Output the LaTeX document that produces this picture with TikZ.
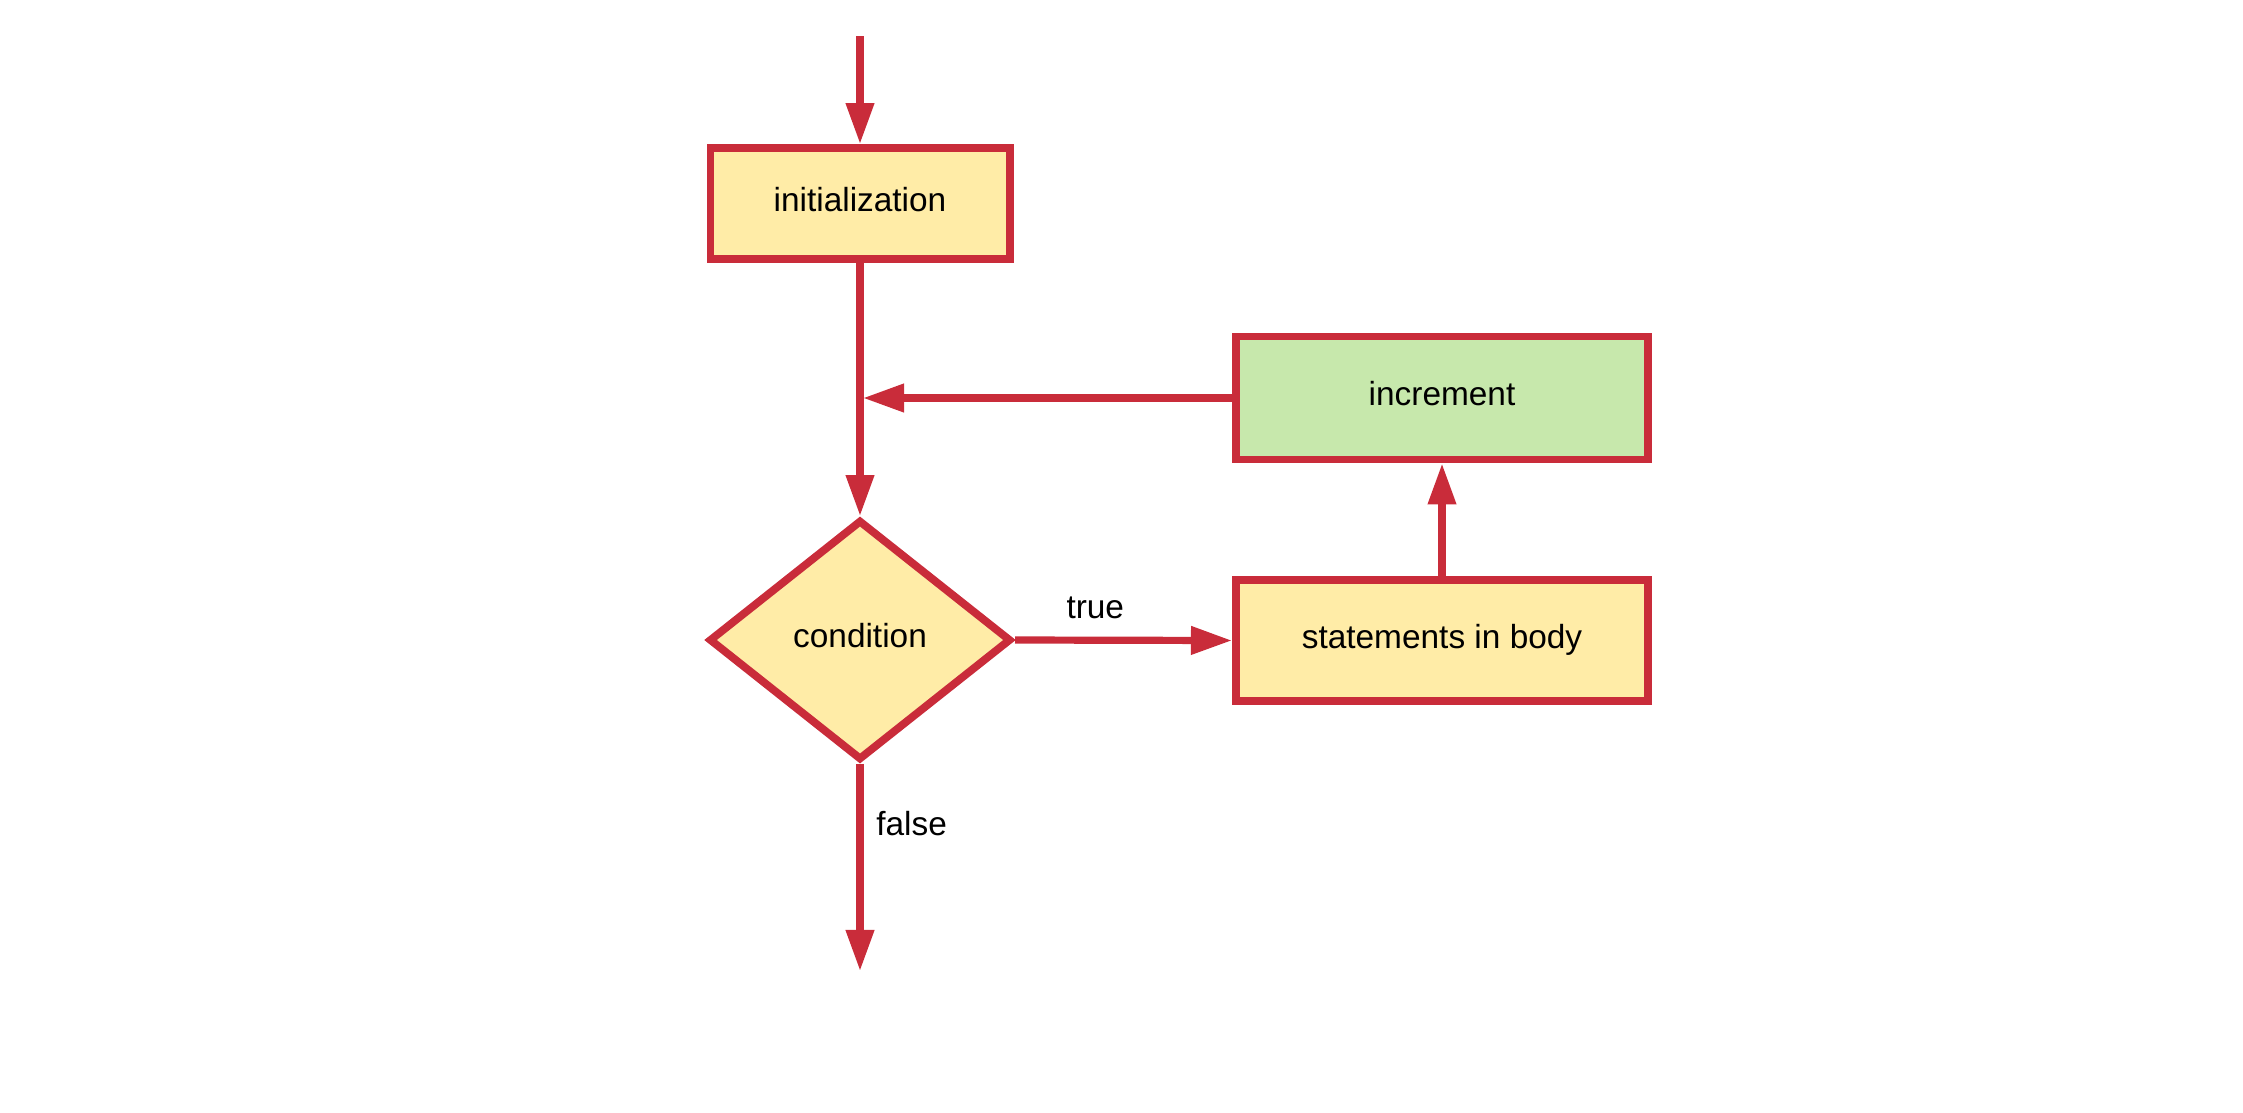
\documentclass[tikz,border=0pt]{standalone}
\usepackage{fontspec}
\setmainfont{Liberation Sans}
\usetikzlibrary{arrows.meta,shapes.geometric}
\definecolor{edgered}{RGB}{201,44,58}
\definecolor{boxyellow}{RGB}{255,236,167}
\definecolor{boxgreen}{RGB}{199,232,172}
\begin{document}
\begin{tikzpicture}[x=0.01cm,y=-0.01cm,
  font=\fontsize{9.5pt}{11pt}\selectfont,
  flowbox/.style={rectangle, draw=edgered, line width=0.078cm, fill=boxyellow,
    inner sep=0pt, minimum width=2.99cm, minimum height=1.11cm,
    text height=0.25cm, text depth=0.1cm},
  decision/.style={diamond, draw=edgered, line width=0.078cm, fill=boxyellow,
    inner sep=0pt, minimum width=3.02cm, minimum height=2.40cm,
    text height=0.25cm, text depth=0.1cm},
  arr/.style={draw=edgered, line width=0.072cm,
    -{Triangle[length=0.41cm,width=0.27cm]}}]
\useasboundingbox (0,0) rectangle (2243,1112);
\node[flowbox] (init) at (860,203.5) {initialization};
\node[flowbox, fill=boxgreen, minimum width=4.12cm, minimum height=1.23cm] (inc) at (1442,398) {increment};
\node[flowbox, minimum width=4.12cm, minimum height=1.21cm] (body) at (1442,640.5) {statements in body};
\node[decision] (cond) at (860,640) {condition};
\coordinate (start) at (860,36);
\coordinate (stop) at (860,971);
\coordinate (merge) at (863,398);
\draw[arr] (start) -- (init.north);
\draw[arr] (init.south) -- (cond.north);
\draw[arr] (inc.west) -- (merge);
\draw[arr] (cond.east) -- node[pos=0.37, yshift=0.32cm] {true} (body.west);
\draw[arr] (body.north) -- (inc.south);
\draw[arr] (cond.south) -- node[pos=0.3, anchor=west, xshift=0.01cm, yshift=0.03cm] {false} (stop);
\end{tikzpicture}
\end{document}
